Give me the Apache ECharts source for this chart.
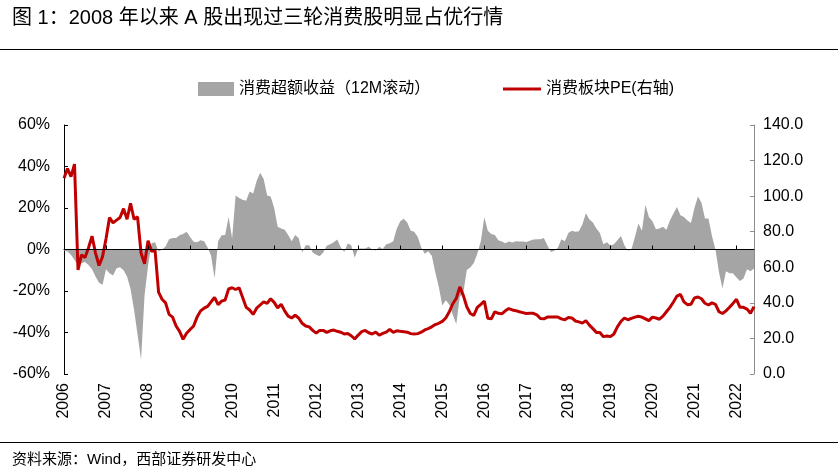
<!DOCTYPE html>
<html>
<head>
<meta charset="utf-8">
<script src="https://cdn.jsdelivr.net/npm/echarts@6/dist/echarts.min.js"></script>
<style>html,body{margin:0;padding:0;background:#fff;}#c{width:838px;height:475px;}</style>
</head>
<body>
<div id="c"></div>
<script>
// ---- data ----
const startYear = 2006;
const yearLabels = ['2006','2007','2008','2009','2010','2011','2012','2013','2014','2015','2016','2017','2018','2019','2020','2021','2022'];
// 消费超额收益（12M滚动），%，monthly from 2006-01
const excessReturn = [
  -0.5, -1, -2.5, -5, -7.5, -6.5, -6, -7.5, -9.5, -13,
  -16, -17, -9.5, -11.5, -12.5, -9, -8.5, -10, -13, -19,
  -29, -41, -53, -22, -8, 3, 3.5, -1, 0, 1.5,
  5, 5.5, 5.5, 6.9, 7.5, 8.5, 6, 3.7, 3.5, 4.5,
  4, 1, -3, -14, 4, 6.9, 7, 15.7, 5.3, 26,
  24.8, 24, 23.5, 28, 27, 33, 37, 34, 26, 25.5,
  20, 11, 10.1, 9.5, 7, 4, 7, 5.5, -1.5, 2,
  2, -1.5, -2.5, -3.3, -1.5, 1.8, 2.5, 3.5, 4.8, 1.1,
  -1.2, 2.9, 2, -4, 0.5, 0.5, 0.5, 1.3, 0, -0.5,
  1.3, 0.3, 2.5, 3, 4, 10, 13.6, 14.8, 13, 9,
  8.6, 6, 1, -2, -0.8, -3, -11, -18, -27, -24.5,
  -26.5, -31.5, -36, -22.8, -21, -9.9, -8.7, -6.5, -2, 4,
  15.5, 9, 7.5, 7, 4.5, 3.8, 3, 3.8, 3.4, 4,
  3.8, 3.8, 3.6, 4.2, 4.8, 5, 5, 5.5, 2, -1.2,
  -0.6, 0.8, 5, 4, 8, 9, 8.5, 8.8, 12, 17.5,
  14.5, 13, 10.1, 8, 2.5, 3.5, 1.9, 2.5, 4.5, 6.5,
  2, -0.6, 0, 6, 12.5, 9, 21.5, 15.7, 13.6, 9.8,
  10.1, 11, 9.5, 14, 17.3, 20.5, 16.5, 15.7, 14, 12.8,
  20, 25.6, 22.5, 15, 15, 6.5, 0, -11, -18.8, -10.5,
  -11.5, -11.5, -13.5, -15.2, -14, -9.5, -10.5, -9.1
];
// 消费板块PE（右轴）
const consumerPE = [
  110, 115.5, 111, 118, 58.5, 67, 65.5, 71, 77.5, 68,
  61, 66, 76, 88, 85, 86.5, 88, 93, 87, 96,
  87, 88.4, 68, 62, 75, 69, 69.5, 46, 42, 40,
  33.5, 32, 27, 24, 19.5, 22.9, 25, 27, 32, 35.5,
  37, 38, 40.6, 43, 39, 41, 41.6, 47.8, 48.5, 47.5,
  48.5, 43, 37.5, 36, 33.5, 37, 38.8, 40.6, 39.7, 42.3,
  40.3, 37.2, 39.2, 35.5, 32.5, 31.5, 33, 31.5, 28.5, 27,
  26.5, 24.5, 23, 24.5, 24.5, 23.4, 24.3, 24.7, 24, 23.5,
  22.5, 22.8, 21.5, 19.7, 21.9, 23.8, 24.5, 23.2, 22.5, 23.5,
  21.8, 22.8, 23.5, 25.1, 23.4, 24.3, 24, 23.8, 23.5, 22.7,
  22.5, 22.7, 23.5, 24.8, 25.5, 26.5, 27.8, 28.5, 29.6, 31.5,
  35, 39.5, 42.5, 49, 44.2, 37.8, 34, 33, 37.5, 39.2,
  41, 31.3, 31, 35, 34.1, 33.8, 35.5, 36.8, 36, 35.6,
  35, 34.5, 34, 34.1, 34.1, 33.3, 31.2, 31, 32, 32,
  32, 32, 31, 30.5, 31.8, 31.5, 29.8, 29.3, 28.6, 30,
  27.5, 25.5, 23.4, 23.3, 21, 21.4, 21, 22.5, 26.5, 29.5,
  31.5, 30.5, 31.3, 32, 32.5, 32, 31, 30, 32, 31.5,
  30.8, 32.5, 35, 37.5, 40.5, 43.8, 44.8, 40.6, 39, 39.2,
  42.8, 43.3, 42.3, 39.8, 38.8, 40, 39.2, 35, 34, 35.5,
  37.5, 39.7, 42, 37.5, 37.5, 36.5, 34.2, 37.9
];
const leftTicks = {min: -60, max: 60, interval: 20};
const rightTicks = {min: 0, max: 140, interval: 20};

// month categories
const months = [];
for (let i = 0; i < excessReturn.length; i++) {
  const y = startYear + Math.floor(i / 12);
  const m = (i % 12) + 1;
  months.push(y + '-' + (m < 10 ? '0' + m : m));
}

const FONT = '"Liberation Sans", Arial, "Noto Sans CJK SC", sans-serif';
const chart = echarts.init(document.getElementById('c'), null, {renderer: 'canvas'});
const yearInterval = (idx) => idx % 12 === 0;

chart.setOption({
  animation: false,
  backgroundColor: '#ffffff',
  textStyle: {fontFamily: FONT},
  graphic: [
    {type: 'text', left: 12, top: 8, style: {text: '图 1：2008 年以来 A 股出现过三轮消费股明显占优行情', font: '20px ' + FONT, fill: '#000'}},
    {type: 'line', shape: {x1: 0, y1: 49.5, x2: 838, y2: 49.5}, style: {stroke: '#000', lineWidth: 1}},
    {type: 'line', shape: {x1: 0, y1: 442.5, x2: 838, y2: 442.5}, style: {stroke: '#000', lineWidth: 1}},
    {type: 'text', left: 12, top: 452, style: {text: '资料来源：Wind，西部证券研发中心', font: '15px ' + FONT, fill: '#000'}}
  ],
  legend: [
    {data: [{name: '消费超额收益（12M滚动）', icon: 'rect'}], left: 193, top: 76, itemWidth: 36, itemHeight: 14, itemGap: 10,
     textStyle: {fontSize: 16, color: '#000', fontFamily: FONT}},
    {data: [{name: '消费板块PE(右轴)', icon: 'rect'}], left: 498, top: 76, itemWidth: 38, itemHeight: 3,
     itemStyle: {color: '#c00000'},
     textStyle: {fontSize: 16, color: '#000', fontFamily: FONT}}
  ],
  grid: {left: 64, top: 125, width: 690, height: 249, containLabel: false},
  xAxis: [
    {type: 'category', data: months, boundaryGap: false, position: 'bottom',
     axisLine: {show: false, onZero: false}, axisTick: {show: false},
     axisLabel: {interval: yearInterval, rotate: 90, margin: 9, fontSize: 16, color: '#000', fontFamily: FONT,
       formatter: (v) => v.slice(0, 4)},
     splitLine: {show: false}},
    {type: 'category', data: months, boundaryGap: false, position: 'bottom', z: 10,
     axisLine: {show: true, onZero: true, lineStyle: {color: '#000', width: 1}},
     axisTick: {show: true, inside: true, length: 4, interval: yearInterval, lineStyle: {color: '#000'}},
     axisLabel: {show: false}, splitLine: {show: false}}
  ],
  yAxis: [
    {type: 'value', min: leftTicks.min, max: leftTicks.max, interval: leftTicks.interval, position: 'left',
     axisLine: {show: true, lineStyle: {color: '#000', width: 1}},
     axisTick: {show: true, inside: true, length: 4, lineStyle: {color: '#000'}},
     axisLabel: {formatter: '{value}%', fontSize: 16, color: '#000', margin: 14, fontFamily: FONT},
     splitLine: {show: false}},
    {type: 'value', min: rightTicks.min, max: rightTicks.max, interval: rightTicks.interval, position: 'right',
     axisLine: {show: true, lineStyle: {color: '#8c8c8c', width: 1}},
     axisTick: {show: true, inside: true, length: 4, lineStyle: {color: '#8c8c8c'}},
     axisLabel: {formatter: (v) => v.toFixed(1), fontSize: 16, color: '#000', margin: 9, fontFamily: FONT},
     splitLine: {show: false}}
  ],
  series: [
    {name: '消费超额收益（12M滚动）', type: 'line', xAxisIndex: 0, yAxisIndex: 0, data: excessReturn,
     symbol: 'none', lineStyle: {width: 0, color: '#a5a5a5'}, itemStyle: {color: '#a5a5a5'},
     areaStyle: {color: '#a5a5a5', opacity: 1}, z: 2},
    {name: '消费板块PE(右轴)', type: 'line', xAxisIndex: 0, yAxisIndex: 1, data: consumerPE,
     symbol: 'none', lineStyle: {width: 3, color: '#c00000'}, itemStyle: {color: '#c00000'}, z: 3}
  ]
});
</script>
</body>
</html>
